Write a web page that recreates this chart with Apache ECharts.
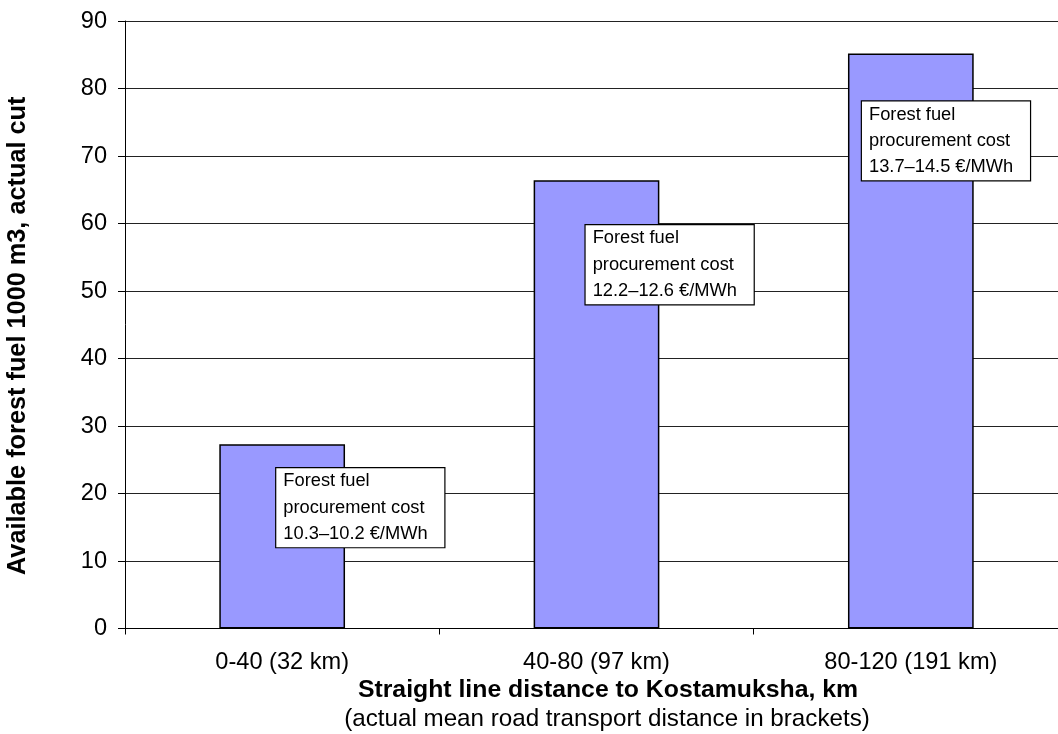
<!DOCTYPE html>
<html>
<head>
<meta charset="utf-8">
<script src="https://cdn.jsdelivr.net/npm/echarts@6/dist/echarts.min.js"></script>
<style>
  html, body { margin: 0; padding: 0; background: #fff; }
  #chart { width: 1058px; height: 734px; }
</style>
</head>
<body>
<div id="chart"></div>
<script>
// Distance classes and available forest fuel (1000 m3, actual cut)
const categories = ['0-40 (32 km)', '40-80 (97 km)', '80-120 (191 km)'];
const fuelVolume = [27.3, 66.4, 85.2];
// Procurement cost ranges per distance class
const costRanges = ['10.3\u201310.2 \u20ac/MWh', '12.2\u201312.6 \u20ac/MWh', '13.7\u201314.5 \u20ac/MWh'];
const yTicks = { min: 0, max: 90, step: 10 };

const FONT = '"Liberation Sans", Arial, sans-serif';
// where each cost note sits relative to its bar's top-left corner
const notePlacement = [[57, 24], [52, 45], [14, 48]];

const chart = echarts.init(document.getElementById('chart'), null, { renderer: 'canvas' });

const barData = fuelVolume.map((v, i) => ({
  value: v,
  label: {
    show: true,
    position: notePlacement[i],
    align: 'left',
    verticalAlign: 'top',
    formatter: 'Forest fuel\nprocurement cost\n' + costRanges[i],
    fontFamily: FONT,
    fontSize: 18.3,
    lineHeight: 26.3,
    color: '#000',
    backgroundColor: '#fff',
    borderColor: '#000',
    borderWidth: 1.2,
    padding: [0, 6, 0, 7],
    width: 155
  }
}));

chart.setOption({
  animation: false,
  backgroundColor: '#fff',
  grid: { left: 125, top: 21, right: -10, bottom: 105.5, containLabel: false, outerBoundsMode: 'none' },
  title: [
    {
      text: 'Straight line distance to Kostamuksha, km',
      left: 603, top: 673, textAlign: 'center',
      textStyle: { fontFamily: FONT, fontSize: 24.8, fontWeight: 'bold', color: '#000' }
    },
    {
      text: '(actual mean road transport distance in brackets)',
      left: 602, top: 702, textAlign: 'center',
      textStyle: { fontFamily: FONT, fontSize: 24.2, fontWeight: 'normal', color: '#000' }
    }
  ],
  xAxis: {
    type: 'category',
    data: categories,
    boundaryGap: true,
    axisLine: { lineStyle: { color: '#000', width: 1 } },
    axisTick: { show: true, length: 6, lineStyle: { color: '#000' } },
    axisLabel: { fontFamily: FONT, fontSize: 23.6, color: '#000', margin: 22 },
    splitLine: { show: false }
  },
  yAxis: {
    type: 'value',
    min: yTicks.min, max: yTicks.max, interval: yTicks.step,
    name: 'Available forest fuel 1000 m3, actual cut',
    nameLocation: 'middle',
    nameGap: 94,
    nameTextStyle: {
      fontFamily: FONT, fontSize: 25.3, fontWeight: 'bold', color: '#000',
      padding: [0, 22, 0, 0]
    },
    axisLine: { show: true, lineStyle: { color: '#000', width: 1 } },
    axisTick: { show: true, inside: false, length: 7, lineStyle: { color: '#000' } },
    axisLabel: { fontFamily: FONT, fontSize: 23.6, color: '#000', margin: 18 },
    splitLine: { show: true, lineStyle: { color: '#222', width: 1 } }
  },
  series: [{
    type: 'bar',
    data: barData,
    barWidth: '40%',
    itemStyle: { color: '#9999FF', borderColor: '#000', borderWidth: 1.5 },
    emphasis: { disabled: true }
  }]
});
</script>
</body>
</html>
